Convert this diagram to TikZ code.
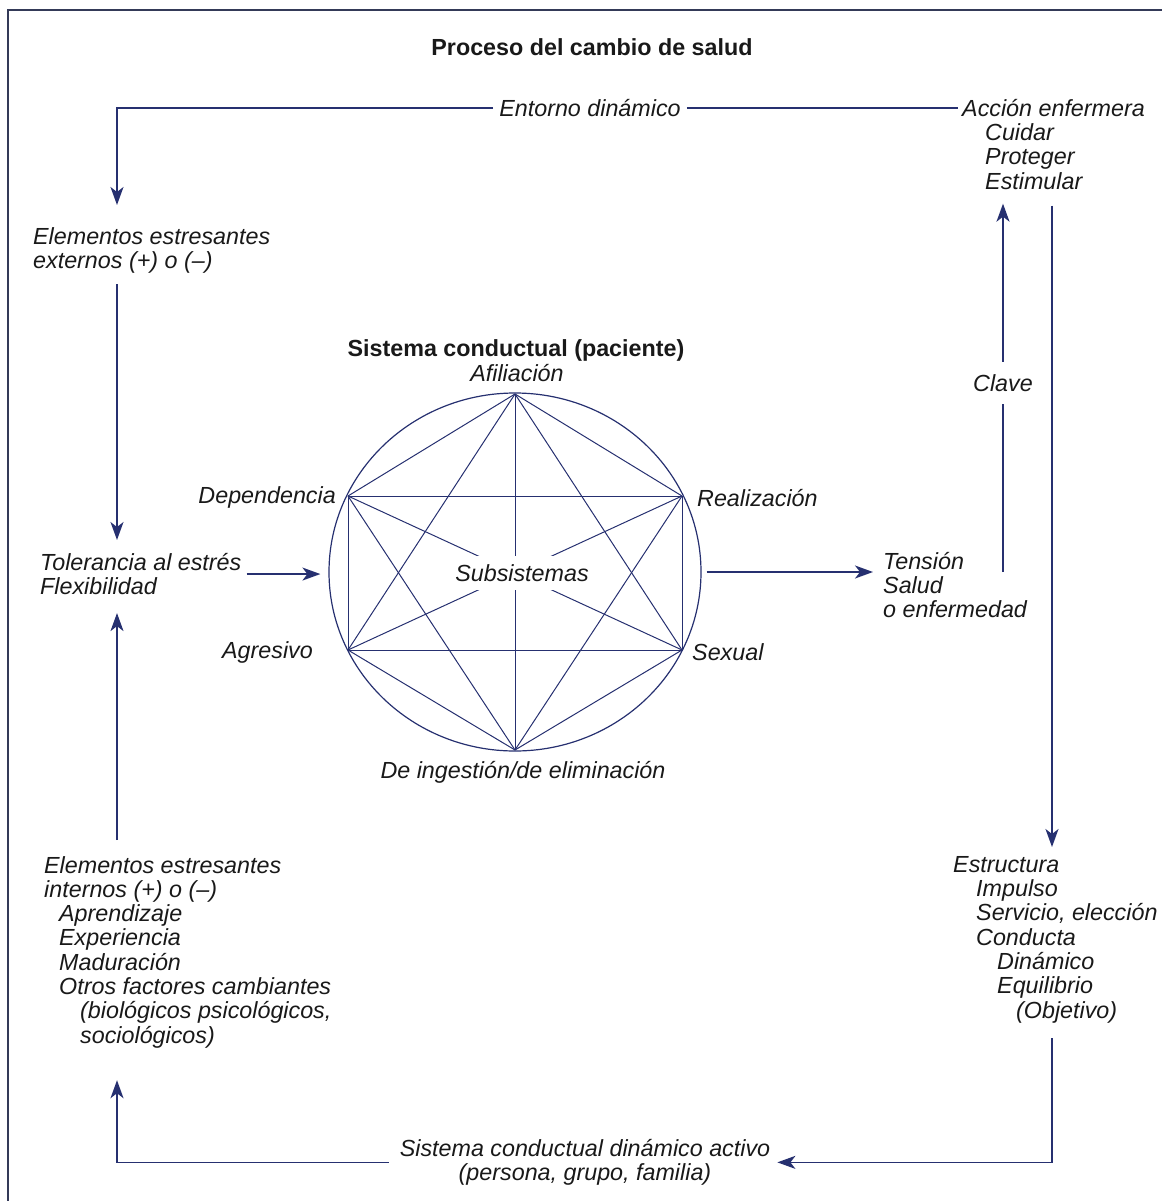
\documentclass[tikz,border=0pt]{standalone}
\usepackage{fontspec}
\setmainfont{Liberation Sans}
\usetikzlibrary{arrows.meta,shapes.geometric}
\definecolor{azul}{RGB}{38,48,112}
\definecolor{marco}{RGB}{52,58,88}
\definecolor{tinta}{RGB}{25,25,25}
\tikzset{
    texto/.style = {font=\fontsize{23.3}{24.3}\selectfont\itshape, text=tinta, inner sep=0pt},
    negrita/.style = {font=\fontsize{23.3}{24.3}\selectfont\bfseries},
    bloque/.style = {align=left, anchor=north west},
    linea/.style = {azul, line width=1.6pt},
    flecha/.style = {linea, -{Stealth[length=18pt,width=13pt,inset=5pt]}}
}

\begin{document}
\begin{tikzpicture}[x=1pt, y=-1pt]
            \useasboundingbox (0,0) rectangle (1161,1201);
            \draw[marco, line width=2pt] (8,1210) |- (1170,10);

            \coordinate (colIzq) at (117,0);
            \coordinate (colDer) at (1052,0);
            \coordinate (colClave) at (1003,0);

            \begin{scope}[every node/.style = {texto}]
                \node[negrita] (titulo) at (592,47) {Proceso del cambio de salud};
                \node (entorno) at (590,108) {Entorno dinámico};
                \node[bloque] (accion) at (962,99) {Acción enfermera\\\hspace*{23pt}Cuidar\\\hspace*{23pt}Proteger\\\hspace*{23pt}Estimular};
                \node[bloque] (externos) at (33,227) {Elementos estresantes\\externos (+) o (–)};
                \node[bloque] (tolerancia) at (40,553) {Tolerancia al estrés\\Flexibilidad};
                \node[bloque] (internos) at (44,856) {Elementos estresantes\\internos (+) o (–)\\\hspace*{15pt}Aprendizaje\\\hspace*{15pt}Experiencia\\\hspace*{15pt}Maduración\\\hspace*{15pt}Otros factores cambiantes\\\hspace*{36pt}(biológicos psicológicos,\\\hspace*{36pt}sociológicos)};
                \node[bloque] (tension) at (883,552) {Tensión\\Salud\\o enfermedad};
                \node[bloque] (estructura) at (953,856) {Estructura\\\hspace*{23pt}Impulso\\\hspace*{23pt}Servicio, elección\\\hspace*{23pt}Conducta\\\hspace*{44pt}Dinámico\\\hspace*{44pt}Equilibrio\\\hspace*{63pt}(Objetivo)};
                \node[align=center, anchor=north] (activo) at (585,1139) {Sistema conductual dinámico activo\\(persona, grupo, familia)};

                % sistema conductual
                \node[negrita] (sistema) at (516,350) {Sistema conductual (paciente)};
                \node (afiliacion) at (517,373) {Afiliación};
                \node[anchor=east] (dependencia) at (336,497) {Dependencia};
                \node[anchor=west] (realizacion) at (697,498) {Realización};
                \node[anchor=east] (agresivo) at (313,652) {Agresivo};
                \node[anchor=west] (sexual) at (692,652) {Sexual};
                \node (ingestion) at (523,772) {De ingestión/de eliminación};
                \node[draw=azul, line width=1.2pt, ellipse, minimum width=372, minimum height=358] (circulo) at (515,572) {};
            \end{scope}

            \coordinate (afil) at (515,394);
            \coordinate (depe) at (348,496);
            \coordinate (real) at (682,496);
            \coordinate (agre) at (348,650);
            \coordinate (sexu) at (682,650);
            \coordinate (inge) at (515,750);

            \begin{scope}[every edge/.style = {-, draw=azul, line width=1pt}]
                \path(afil) edge[] (depe);
                \path(afil) edge[] (real);
                \path(afil) edge[] (agre);
                \path(afil) edge[] (sexu);
                \path(afil) edge[] (inge);
                \path(depe) edge[] (real);
                \path(depe) edge[] (agre);
                \path(depe) edge[] (sexu);
                \path(depe) edge[] (inge);
                \path(real) edge[] (agre);
                \path(real) edge[] (sexu);
                \path(real) edge[] (inge);
                \path(agre) edge[] (sexu);
                \path(agre) edge[] (inge);
                \path(sexu) edge[] (inge);
            \end{scope}
            \node[texto, fill=white, inner xsep=4pt, inner ysep=8pt] (subsistemas) at (522,573) {Subsistemas};

            % ciclo exterior
            \draw[linea, shorten <=6pt, shorten >=4pt] (entorno.east) -- (entorno.east -| accion.west);
            \draw[flecha, shorten <=6pt, shorten >=22pt] (entorno.west) -| (colIzq |- externos.north);
            \draw[flecha, shorten <=11pt, shorten >=13pt] (colIzq |- externos.south) -- (colIzq |- tolerancia.north);
            \draw[flecha, shorten <=5pt, shorten >=8pt] (tolerancia.east) -- (tolerancia.east -| circulo.west);
            \draw[flecha, shorten <=16pt, shorten >=18pt] (colIzq |- internos.north) -- (colIzq |- tolerancia.south);
            \draw[flecha, shorten <=5pt, shorten >=10pt] (circulo.east) -- (circulo.east -| tension.west);
            \draw[flecha, shorten >=14pt] (colClave |- circulo.east) -- (colClave |- accion.south);
            \node[texto, fill=white, inner xsep=3pt, inner ysep=12pt] (clave) at (1003,383) {Clave};
            \draw[flecha, shorten <=16pt, shorten >=9pt] (colDer |- accion.south) -- (colDer |- estructura.north);
            \draw[flecha, shorten <=15pt, shorten >=7pt] (colDer |- estructura.south) |- (activo.east);
            \draw[flecha, shorten <=11pt, shorten >=32pt] (activo.west) -| (colIzq |- internos.south);
\end{tikzpicture}
\end{document}
